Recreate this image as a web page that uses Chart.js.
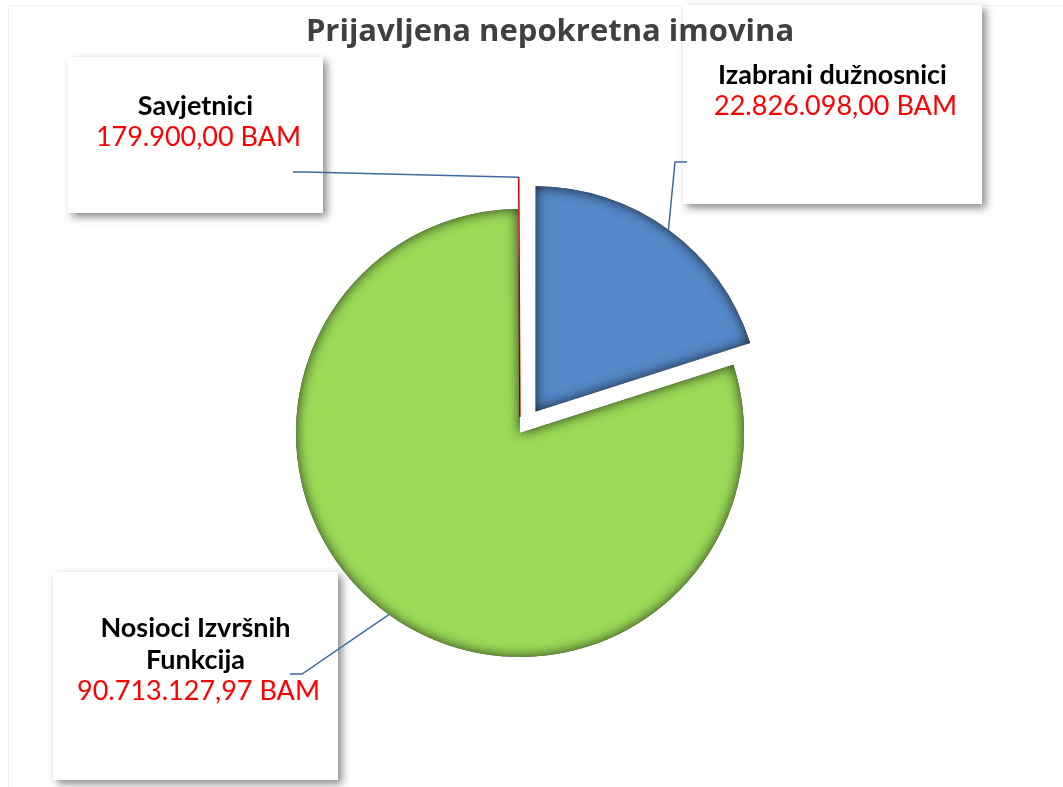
<!DOCTYPE html>
<html>
<head>
<meta charset="utf-8">
<script src="https://cdn.jsdelivr.net/npm/chart.js@4/dist/chart.umd.min.js"></script>
<style>
  html, body { margin: 0; padding: 0; background: #fff; }
  #wrap { position: relative; width: 1063px; height: 787px; }
</style>
</head>
<body>
<div id="wrap"><canvas id="pieChart"></canvas></div>
<script>
const chartTitle = 'Prijavljena nepokretna imovina';
const categories = ['Izabrani dužnosnici', 'Nosioci Izvršnih Funkcija', 'Savjetnici'];
const labelLines = [['Izabrani dužnosnici'], ['Nosioci Izvršnih', 'Funkcija'], ['Savjetnici']];
const amounts = [22826098.00, 90713127.97, 179900.00];
const currency = 'BAM';
const sliceColors = ['#5689CA', '#9BDB57', '#C00000'];
const explode = [106, 0, 64];

// callout boxes (layout only)
const callouts = [
  { x: 683, y: 5, w: 299, h: 199, textY: 75, from: [687, 162], dir: -1 },
  { x: 53, y: 572, w: 285, h: 208, textY: 628, from: [290, 674], dir: 1 },
  { x: 68, y: 57, w: 255, h: 156, textY: 106, from: [293, 172], dir: 1 }
];
const labelFont = 'Lato';
const lineGap = 32;

function fmtBAM(v) {
  const parts = v.toFixed(2).split('.');
  return parts[0].replace(/\B(?=(\d{3})+(?!\d))/g, '.') + ',' + parts[1] + ' ' + currency;
}

function arcGeom(el) {
  const p = el.getProps(['x', 'y', 'startAngle', 'endAngle', 'outerRadius', 'circumference'], true);
  const off = (el.options.offset || 0) / 4;
  const mid = (p.startAngle + p.endAngle) / 2;
  const fix = 1 - Math.sin(Math.min(Math.PI, p.circumference));
  return {
    cx: p.x + Math.cos(mid) * off,
    cy: p.y + Math.sin(mid) * off,
    r: p.outerRadius + off * fix,
    start: p.startAngle, end: p.endAngle, mid: mid
  };
}

// boxes, texts and title go under the pie
const calloutBoxes = {
  id: 'calloutBoxes',
  beforeDraw(chart) {
    const ctx = chart.ctx;
    ctx.save();
    ctx.strokeStyle = '#efefef';
    ctx.lineWidth = 1;
    ctx.beginPath();
    ctx.moveTo(8.5, 787); ctx.lineTo(8.5, 5.5); ctx.lineTo(1063, 5.5);
    ctx.stroke();
    ctx.restore();

    callouts.forEach((c, i) => {
      ctx.save();
      ctx.shadowColor = 'rgba(0,0,0,0.45)';
      ctx.shadowBlur = 8;
      ctx.shadowOffsetX = 4;
      ctx.shadowOffsetY = 4;
      ctx.fillStyle = '#fff';
      ctx.fillRect(c.x, c.y, c.w, c.h);
      ctx.restore();

      ctx.save();
      ctx.textAlign = 'center';
      ctx.textBaseline = 'middle';
      const cx = c.x + c.w / 2;
      let y = c.textY;
      ctx.fillStyle = '#000';
      ctx.font = 'bold 27px ' + labelFont;
      labelLines[i].forEach(t => { ctx.fillText(t, cx, y); y += lineGap; });
      ctx.fillStyle = '#FF0000';
      ctx.font = '27px ' + labelFont;
      ctx.fillText(fmtBAM(amounts[i]), cx + 3, y - 1);
      ctx.restore();
    });

    ctx.save();
    ctx.fillStyle = '#404040';
    ctx.font = 'bold 31px "Open Sans"';
    ctx.textAlign = 'center';
    ctx.textBaseline = 'middle';
    ctx.fillText(chartTitle, 550, 32);
    ctx.restore();
  }
};

// inner shadow on slices + leader lines
const sliceEffects = {
  id: 'sliceEffects',
  afterDatasetsDraw(chart) {
    const ctx = chart.ctx;
    const arcs = chart.getDatasetMeta(0).data;
    arcs.forEach((el) => {
      const g = arcGeom(el);
      if (g.end - g.start < 0.05) return;
      const path = new Path2D();
      path.moveTo(g.cx, g.cy);
      path.arc(g.cx, g.cy, g.r, g.start, g.end);
      path.closePath();
      const outer = new Path2D();
      outer.rect(-2000, -2000, 6000, 6000);
      outer.addPath(path);
      ctx.save();
      ctx.clip(path);
      ctx.shadowColor = 'rgba(0,0,0,0.75)';
      ctx.shadowBlur = 13;
      ctx.fillStyle = '#000';
      ctx.fill(outer, 'evenodd');
      ctx.restore();
    });

    arcs.forEach((el, i) => {
      const g = arcGeom(el);
      const c = callouts[i];
      const tipX = g.cx + Math.cos(g.mid) * g.r;
      const tipY = g.cy + Math.sin(g.mid) * g.r;
      ctx.save();
      ctx.strokeStyle = '#3E6A9E';
      ctx.lineWidth = 1.5;
      ctx.beginPath();
      ctx.moveTo(c.from[0], c.from[1]);
      ctx.lineTo(c.from[0] + 12 * c.dir, c.from[1]);
      ctx.lineTo(tipX, tipY);
      ctx.stroke();
      ctx.restore();
    });
  }
};

new Chart(document.getElementById('pieChart'), {
  type: 'pie',
  data: {
    labels: categories,
    datasets: [{
      data: amounts,
      backgroundColor: sliceColors,
      borderColor: sliceColors,
      borderWidth: [0, 0, 1.5],
      offset: explode,
      radius: 224,
      clip: false
    }]
  },
  options: {
    responsive: true,
    maintainAspectRatio: false,
    animation: false,
    layout: { padding: { left: 0, right: 23, top: 79, bottom: 0 } },
    plugins: {
      legend: { display: false },
      tooltip: { enabled: false },
      title: { display: false }
    }
  },
  plugins: [calloutBoxes, sliceEffects]
});
</script>
</body>
</html>
